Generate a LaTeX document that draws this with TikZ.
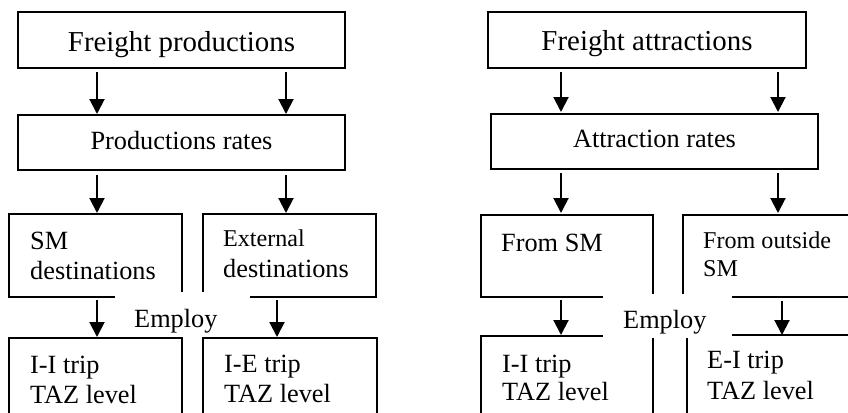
\documentclass[tikz,border=0pt]{standalone}
\usepackage{fontspec}
\setmainfont{Liberation Serif}
\usetikzlibrary{arrows.meta}
\begin{document}
\begin{tikzpicture}[x=1bp,y=-1bp,
  box/.style={draw,line width=1.6bp,inner sep=0,outer sep=0,anchor=north west},
  txt/.style={inner sep=0,anchor=base west},
  ctxt/.style={inner sep=0,anchor=base},
  arr/.style={line width=2bp,-{Triangle[width=15bp,length=15bp]}},
  cover/.style={fill=white,inner sep=0,outer sep=0,anchor=north west},
  big/.style={font=\fontsize{29}{34}\selectfont},
  mid/.style={font=\fontsize{26.4}{30}\selectfont},
  sml/.style={font=\fontsize{24.2}{28}\selectfont}]
\useasboundingbox (0,0) rectangle (848,412);
\clip (0,0) rectangle (848,412);
% ---------- left diagram ----------
\node[box,minimum width=327bp,minimum height=56bp] (fp) at (18,12) {};
\node[ctxt,big] (fpt) at (181.5,51) {Freight productions};
\node[box,minimum width=327bp,minimum height=55bp] (pr) at (18,115) {};
\node[ctxt,mid] (prt) at (181.5,149) {Productions rates};
\node[box,minimum width=173bp,minimum height=83bp] (smd) at (9,214) {};
\node[txt,mid] (smd1) at (30,249) {SM};
\node[txt,mid] (smd2) at (30,279) {destinations};
\node[box,minimum width=173bp,minimum height=83bp] (ed) at (203,214) {};
\node[txt,sml] (ed1) at (223,246) {External};
\node[txt,mid] (ed2) at (223,277) {destinations};
\node[box,minimum width=173bp,minimum height=100bp] (ii) at (9,338) {};
\node[txt,mid] (ii1) at (30,373) {I-I trip};
\node[txt,mid] (ii2) at (30,403) {TAZ level};
\node[box,minimum width=174bp,minimum height=100bp] (ie) at (203,338) {};
\node[txt,mid] (ie1) at (224,372) {I-E trip};
\node[txt,mid] (ie2) at (224,402) {TAZ level};
\coordinate (xa) at (97,0);
\coordinate (xb) at (286,0);
\coordinate (xc) at (277,0);
\draw[arr,shorten <=4bp,shorten >=1bp] (fp.south -| xa) -- (pr.north -| xa);
\draw[arr,shorten <=4bp,shorten >=1bp] (fp.south -| xb) -- (pr.north -| xb);
\draw[arr,shorten <=5bp,shorten >=1bp] (pr.south -| xa) -- (smd.north -| xa);
\draw[arr,shorten <=5bp,shorten >=1bp] (pr.south -| xb) -- (ed.north -| xb);
\draw[arr,shorten <=3bp,shorten >=1bp] (smd.south -| xa) -- (ii.north -| xa);
\draw[arr,shorten <=3bp,shorten >=1bp] (ed.south -| xc) -- (ie.north -| xc);
\node[cover,minimum width=135bp,minimum height=45bp] (emp1box) at (115,292) {};
\node[txt,mid] (emp1) at (134,327) {Employ};
% ---------- right diagram ----------
\node[box,minimum width=318bp,minimum height=56bp] (fa) at (488,12) {};
\node[ctxt,big] (fat) at (647,50) {Freight attractions};
\node[box,minimum width=327bp,minimum height=55bp] (ar) at (491,114) {};
\node[ctxt,mid] (art) at (654.5,147) {Attraction rates};
\node[box,minimum width=172bp,minimum height=82bp] (fsm) at (481,215) {};
\node[txt,mid] (fsm1) at (501,251) {From SM};
\node[box,minimum width=200bp,minimum height=82bp] (fos) at (683,215) {};
\node[txt,sml] (fos1) at (703,248) {From outside};
\node[txt,sml] (fos2) at (703,276) {SM};
\node[box,minimum width=172bp,minimum height=100bp] (ii2) at (481,336) {};
\node[txt,mid] (ii21) at (502,372) {I-I trip};
\node[txt,mid] (ii22) at (502,400) {TAZ level};
\node[box,minimum width=200bp,minimum height=100bp] (ei) at (687,335) {};
\node[txt,mid] (ei1) at (707,368) {E-I trip};
\node[txt,mid] (ei2) at (707,399) {TAZ level};
\coordinate (xd) at (561,0);
\coordinate (xe) at (778,0);
\coordinate (xf) at (782,0);
\draw[arr,shorten <=4bp,shorten >=2bp] (fa.south -| xd) -- (ar.north -| xd);
\draw[arr,shorten <=4bp,shorten >=2bp] (fa.south -| xe) -- (ar.north -| xe);
\draw[arr,shorten <=4bp,shorten >=2bp] (ar.south -| xd) -- (fsm.north -| xd);
\draw[arr,shorten <=4bp,shorten >=2bp] (ar.south -| xe) -- (fos.north -| xe);
\draw[arr,shorten <=3bp,shorten >=1bp] (fsm.south -| xd) -- (ii2.north -| xd);
\draw[arr,shorten <=4bp,shorten >=0bp] (fos.south -| xf) -- (ei.north -| xf);
\node[cover,minimum width=129bp,minimum height=44bp] (emp2box) at (603,294) {};
\node[txt,mid] (emp2) at (623,328) {Employ};
\end{tikzpicture}
\end{document}
